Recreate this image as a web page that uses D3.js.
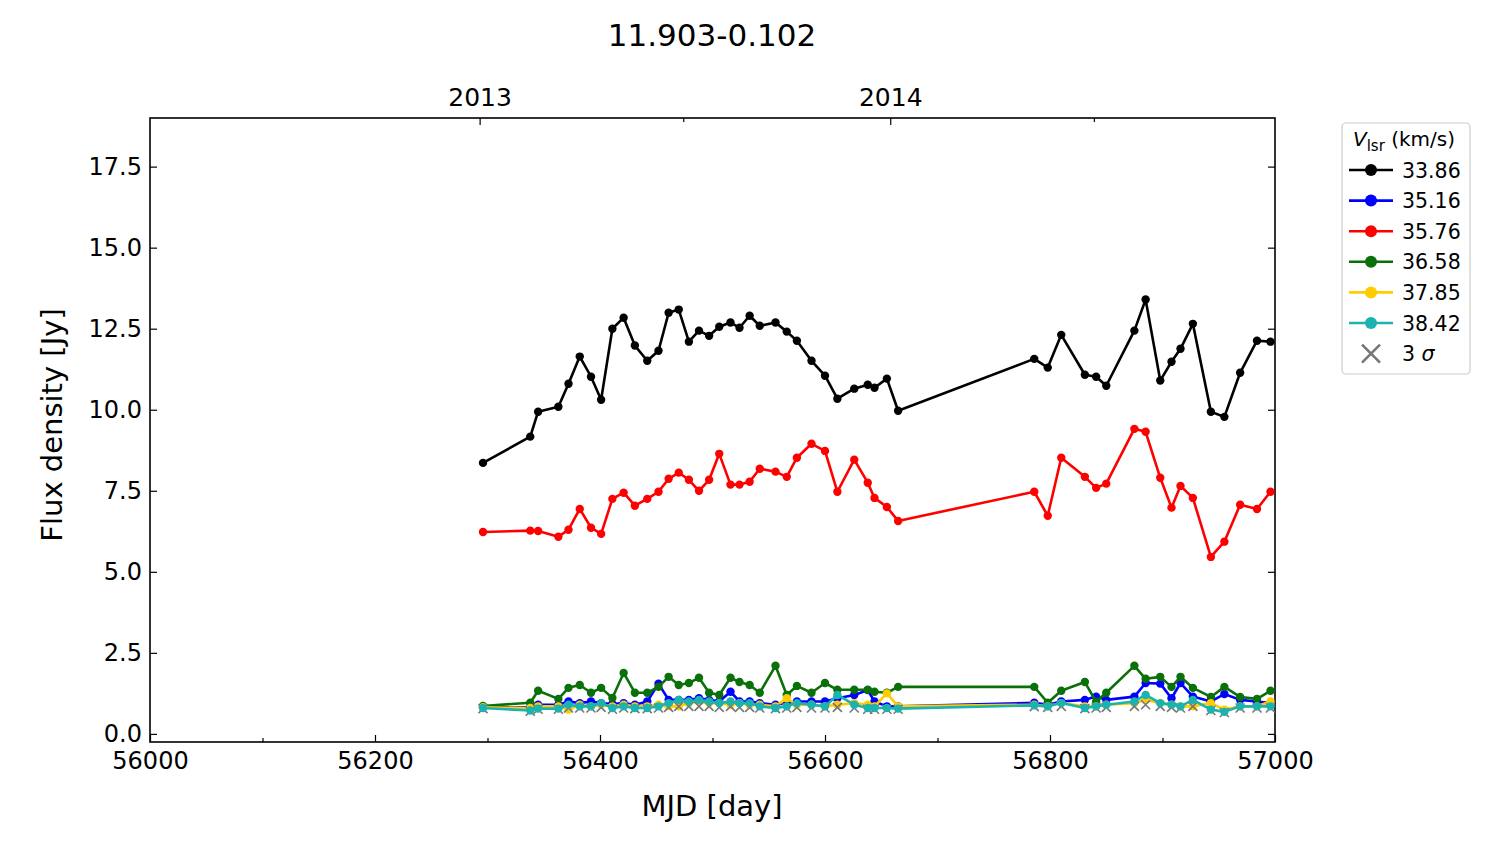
<!DOCTYPE html>
<html><head><meta charset="utf-8">
<script src="https://cdn.jsdelivr.net/npm/d3@7"></script>
<style>
body{margin:0;background:#fff;}
text{font-family:"DejaVu Sans",sans-serif;fill:#000;}
</style></head>
<body>
<svg id="c" width="1500" height="844"></svg>
<script>
const title = "11.903-0.102";
const mjd = [56296,56338,56345,56363,56372,56382,56392,56401,56411,56421,56431,56442,56452,56461,56470,56479,56488,56497,56506,56516,56524,56533,56542,56556,56566,56575,56588,56600,56611,56626,56638,56644,56655,56665,
56786,56798,56810,56831,56841,56850,56875,56885,56898,56908,56916,56927,56943,56955,56969,56984,56996];
const v3386 = [8.36,9.17,9.94,10.09,10.8,11.64,11.02,10.31,12.5,12.84,11.98,11.51,11.82,12.99,13.09,12.1,12.44,12.28,12.56,12.69,12.53,12.9,12.59,12.69,12.41,12.13,11.51,11.05,10.34,10.65,10.77,10.68,10.96,9.97,
11.57,11.3,12.31,11.08,11.02,10.74,12.44,13.4,10.9,11.48,11.88,12.65,9.94,9.78,11.14,12.13,12.1];
const v3516 = [0.82,0.82,0.9,0.9,1.0,0.95,1.0,0.95,0.92,0.95,0.9,1.0,1.55,1.05,1.05,1.05,1.1,1.05,1.0,1.3,1.0,1.0,0.95,0.9,0.95,1.0,1.0,1.0,1.1,1.2,1.35,1.0,0.85,0.85,
0.96,0.9,1.0,1.05,1.15,1.05,1.15,1.57,1.55,1.1,1.57,1.15,1.0,1.23,1.05,1.0,0.95];
const v3576 = [6.23,6.27,6.26,6.08,6.3,6.94,6.36,6.17,7.25,7.44,7.04,7.25,7.47,7.87,8.06,7.84,7.5,7.84,8.64,7.69,7.69,7.78,8.18,8.09,7.93,8.52,8.95,8.73,7.47,8.46,7.75,7.28,7.0,6.57,
7.47,6.73,8.52,7.93,7.59,7.72,9.41,9.32,7.9,6.98,7.65,7.28,5.46,5.93,7.07,6.94,7.47];
const v3658 = [0.86,0.96,1.33,1.08,1.42,1.51,1.27,1.42,1.11,1.88,1.27,1.27,1.45,1.76,1.51,1.57,1.73,1.27,1.2,1.73,1.6,1.51,1.27,2.1,1.2,1.48,1.27,1.57,1.36,1.36,1.36,1.3,1.27,1.45,
1.45,0.96,1.33,1.6,0.99,1.27,2.1,1.7,1.76,1.45,1.76,1.42,1.14,1.45,1.14,1.08,1.33];
const v3785 = [0.82,0.8,0.85,0.85,0.75,0.9,0.85,0.9,0.85,0.9,0.85,0.85,0.9,0.85,0.85,0.95,1.0,0.95,0.95,0.9,0.95,0.9,0.9,0.85,1.1,0.9,0.9,0.85,0.9,0.95,0.9,0.85,1.25,0.85,
0.9,0.85,0.95,0.85,0.85,0.9,0.95,1.05,0.95,0.9,0.85,0.85,0.95,0.75,0.85,0.85,1.0];
const v3842 = [0.8,0.72,0.78,0.78,0.9,0.85,0.85,0.95,0.8,0.85,0.8,0.8,0.85,0.95,1.05,1.0,1.05,1.0,0.95,1.0,0.95,0.95,0.85,0.8,0.85,0.95,0.9,0.85,1.2,0.9,0.8,0.8,0.8,0.78,
0.88,0.85,0.95,0.8,0.85,0.9,1.0,1.2,0.95,0.9,0.85,1.05,0.75,0.68,0.85,0.85,0.85];
const sigma3 = [0.78,0.7,0.76,0.76,0.8,0.8,0.8,0.82,0.76,0.8,0.78,0.78,0.8,0.82,0.85,0.85,0.85,0.85,0.82,0.85,0.82,0.82,0.8,0.78,0.8,0.82,0.8,0.8,0.82,0.8,0.76,0.76,0.76,0.76,
0.84,0.82,0.85,0.78,0.8,0.82,0.85,0.9,0.85,0.82,0.8,0.85,0.72,0.66,0.8,0.8,0.8];
const seriesNames = ["33.86","35.16","35.76","36.58","37.85","38.42"];
const seriesColors = ["#000000","#0000ff","#ff0000","#0a700a","#ffcc00","#1ab3b0"];
const seriesVals = [v3386,v3516,v3576,v3658,v3785,v3842];
const xTicks = [56000,56200,56400,56600,56800,57000];
const xMinor = [56100,56300,56500,56700,56900];
const yTicks = [0,2.5,5,7.5,10,12.5,15,17.5];
const yearTicks = [56293,56658];
const yearLabels = ["2013","2014"];
const yearMinor = [56474,56839];

const svg = d3.select("#c");
const L=150,R=1275,T=118,B=742;
const x = d3.scaleLinear().domain([56000,57000]).range([L,R]);
const y = d3.scaleLinear().domain([-0.25,19.0]).range([B,T]);

svg.append("text").attr("x",712).attr("y",46).attr("text-anchor","middle").style("font-size","31px").text(title);

const fs = "24px";
// bottom axis
const bx = svg.append("g").attr("transform",`translate(0,${B})`)
  .call(d3.axisBottom(x).tickValues(xTicks).tickFormat(d3.format("d")).tickSizeInner(-7).tickSizeOuter(0).tickPadding(10));
bx.selectAll("text").style("font-size",fs).style("font-family","DejaVu Sans");
svg.append("g").attr("transform",`translate(0,${B})`)
  .call(d3.axisBottom(x).tickValues(xMinor).tickFormat("").tickSizeInner(-4).tickSizeOuter(0));
// left axis
const ly = svg.append("g").attr("transform",`translate(${L},0)`)
  .call(d3.axisLeft(y).tickValues(yTicks).tickFormat(d3.format(".1f")).tickSizeInner(-7).tickSizeOuter(0).tickPadding(8));
ly.selectAll("text").style("font-size",fs).style("font-family","DejaVu Sans");
// right axis
svg.append("g").attr("transform",`translate(${R},0)`)
  .call(d3.axisRight(y).tickValues(yTicks).tickFormat("").tickSizeInner(-7).tickSizeOuter(0));
// top axis (years)
const tx = svg.append("g").attr("transform",`translate(0,${T})`)
  .call(d3.axisTop(x).tickValues(yearTicks).tickFormat((d,i)=>yearLabels[i]).tickSizeInner(-7).tickSizeOuter(0).tickPadding(12));
tx.selectAll("text").style("font-size","25px").style("font-family","DejaVu Sans");
svg.append("g").attr("transform",`translate(0,${T})`)
  .call(d3.axisTop(x).tickValues(yearMinor).tickFormat("").tickSizeInner(-4).tickSizeOuter(0));
svg.selectAll(".domain").remove();
svg.selectAll(".tick line").attr("stroke","#000").attr("stroke-width",1.2);
svg.append("rect").attr("x",L).attr("y",T).attr("width",R-L).attr("height",B-T)
  .attr("fill","none").attr("stroke","#000").attr("stroke-width",1.6);

svg.append("text").attr("x",712).attr("y",816).attr("text-anchor","middle").style("font-size","29px").text("MJD [day]");
svg.append("text").attr("transform","translate(62,425) rotate(-90)").attr("text-anchor","middle").style("font-size","29px").text("Flux density [Jy]");

svg.append("clipPath").attr("id","clip").append("rect").attr("x",L).attr("y",T).attr("width",R-L).attr("height",B-T);
const plot = svg.append("g").attr("clip-path","url(#clip)");

function xMark(g,cx,cy,s,col,w){
  g.append("path").attr("d",`M${cx-s},${cy-s}L${cx+s},${cy+s}M${cx-s},${cy+s}L${cx+s},${cy-s}`)
   .attr("stroke",col).attr("stroke-width",w).attr("fill","none");
}
const line = d3.line().x((d,i)=>x(mjd[i])).y(d=>y(d));
seriesVals.forEach((vals,k)=>{
  if(k===5){
    sigma3.forEach((s,i)=>xMark(plot,x(mjd[i]),y(s),4.5,"#777",1.6));
  }
  plot.append("path").datum(vals).attr("d",line).attr("fill","none")
    .attr("stroke",seriesColors[k]).attr("stroke-width",2.6).attr("stroke-linejoin","round");
  plot.selectAll(null).data(vals).enter().append("circle")
    .attr("cx",(d,i)=>x(mjd[i])).attr("cy",d=>y(d)).attr("r",4.2).attr("fill",seriesColors[k]);
});

// legend
const lg = svg.append("g");
lg.append("rect").attr("x",1342).attr("y",123).attr("width",128).attr("height",251).attr("rx",4)
  .attr("fill","#fff").attr("stroke","#ccc").attr("stroke-width",1.2);
const lt = lg.append("text").attr("x",1353).attr("y",146).style("font-size","20px");
lt.append("tspan").style("font-style","italic").text("V");
lt.append("tspan").attr("dy",5).style("font-size","15px").text("lsr");
lt.append("tspan").attr("dy",-5).text(" (km/s)");
seriesNames.forEach((n,k)=>{
  const yy = 170 + k*30.6;
  lg.append("line").attr("x1",1349).attr("x2",1393).attr("y1",yy).attr("y2",yy).attr("stroke",seriesColors[k]).attr("stroke-width",2.6);
  lg.append("circle").attr("cx",1371).attr("cy",yy).attr("r",6).attr("fill",seriesColors[k]);
  lg.append("text").attr("x",1402).attr("y",yy+7.5).style("font-size","20.5px").text(n);
});
const sy = 170+6*30.6;
xMark(lg,1371,sy,9,"#777",2.6);
const st = lg.append("text").attr("x",1402).attr("y",sy+7.5).style("font-size","20.5px");
st.append("tspan").text("3 ");
st.append("tspan").style("font-style","italic").text("σ");
</script>
</body></html>
